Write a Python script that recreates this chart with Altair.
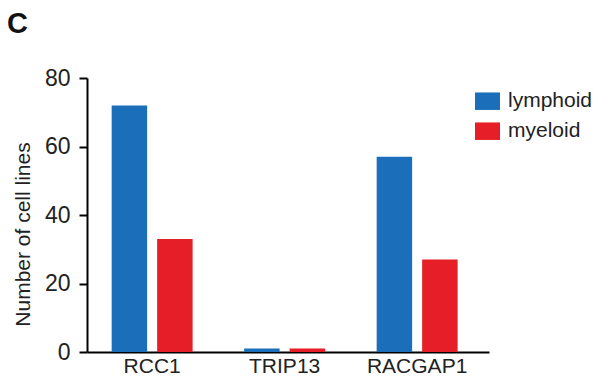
import altair as alt
import pandas as pd

genes = ["RCC1", "TRIP13", "RACGAP1"]
lymphoid = [72, 1, 57]
myeloid = [33, 1, 27]
series = ["lymphoid", "myeloid"]
colors = ["#1b6fba", "#e51e28"]
y_ticks = [0, 20, 40, 60, 80]

rows = []
for g, l, m in zip(genes, lymphoid, myeloid):
    rows.append({"gene": g, "type": series[0], "count": l})
    rows.append({"gene": g, "type": series[1], "count": m})
df = pd.DataFrame(rows)

FONT = "Liberation Sans"

chart = alt.Chart(df).mark_bar().encode(
    x=alt.X("gene:N", sort=genes,
            scale=alt.Scale(paddingInner=0.389, paddingOuter=0.2115, align=0.44),
            axis=alt.Axis(title=None, labelAngle=0, ticks=False, labelPadding=3,
                          labelFontSize=21, labelFont=FONT, labelColor="#222",
                          domainColor="#000", domainWidth=2)),
    xOffset=alt.XOffset("type:N", sort=series,
                        scale=alt.Scale(paddingInner=0.22, paddingOuter=0)),
    y=alt.Y("count:Q", scale=alt.Scale(domain=[0, 80], nice=False),
            axis=alt.Axis(title="Number of cell lines", values=y_ticks, grid=False,
                          tickSize=8, tickWidth=2, tickColor="#000",
                          domainColor="#000", domainWidth=2,
                          labelFontSize=23, labelFont=FONT, labelColor="#222",
                          labelPadding=9,
                          titleFontSize=21, titleFont=FONT, titleFontWeight="normal",
                          titleColor="#222", titleX=-58, titleY=156,
                          titleBaseline="alphabetic", titleAlign="center")),
    color=alt.Color("type:N", sort=series,
                    scale=alt.Scale(domain=series, range=colors),
                    legend=alt.Legend(title=None, orient="none", legendX=388, legendY=10.7,
                                      symbolType="M-1,-0.7H1V0.7H-1Z", symbolSize=625,
                                      symbolStrokeWidth=0, symbolOpacity=1,
                                      labelFontSize=21, labelFont=FONT, labelColor="#222",
                                      labelOffset=8, rowPadding=7, padding=0)),
).properties(
    width=402,
    height=274,
    autosize=alt.AutoSizeParams(type="none"),
    padding={"left": 79, "top": 70, "right": 104, "bottom": 25},
    title=alt.TitleParams("C", anchor="start", frame="group", fontSize=29,
                          fontWeight="bold", font=FONT, color="#111", dx=-80, offset=28),
).configure_view(stroke=None)

chart.save("out.html", embed_options={"renderer": "svg", "actions": False})
